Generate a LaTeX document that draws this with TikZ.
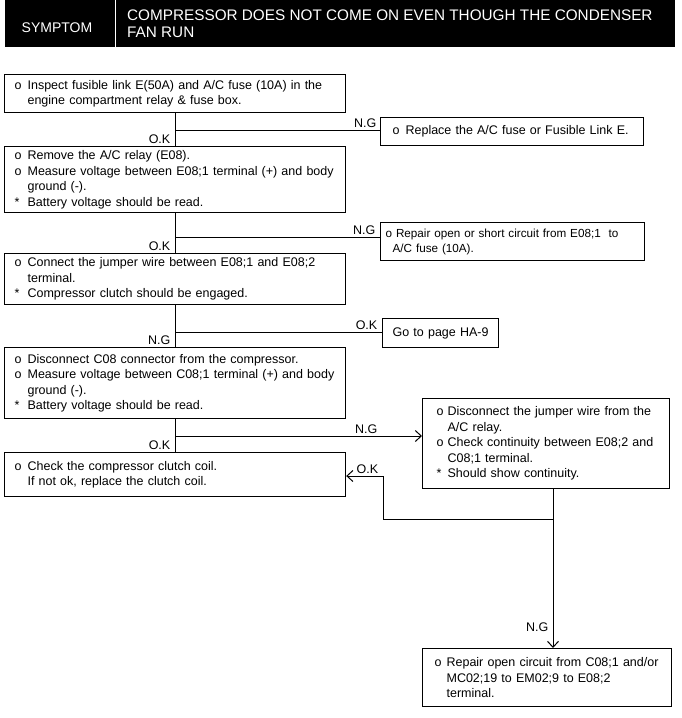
\documentclass[tikz,border=0pt]{standalone}
\usepackage{fontspec}
\setmainfont{Liberation Sans}
\usetikzlibrary{arrows.meta}
\newcommand\bx[2][13pt]{\makebox[#1][l]{#2}}
\newcommand\ind[1][13pt]{\hspace*{#1}}
\begin{document}
\begin{tikzpicture}[x=1pt,y=-1pt,
  box/.style={draw, line width=1.2pt, anchor=north west, align=left, inner xsep=10pt, inner ysep=0pt,
    font=\fontsize{12.5}{15.5}\selectfont},
  conn/.style={line width=1pt},
  tip/.style={-{Straight Barb[length=6pt,width=11pt]}},
  lbl/.style={inner sep=0.5pt, font=\fontsize{12.5}{15}\selectfont},
  hdr/.style={text=white, inner sep=0pt}]
\useasboundingbox (0,0) rectangle (681,718);
% header
\fill[black] (5,0) rectangle (675,47);
\draw[white, line width=1pt] (115,0) -- (115,47);
\node[hdr, font=\fontsize{14}{16}\selectfont] (sym) at (57,28) {SYMPTOM};
\node[hdr, anchor=north west, align=left, font=\fontsize{15.3}{17}\selectfont] (title) at (127,10)
  {COMPRESSOR DOES NOT COME ON EVEN THOUGH THE CONDENSER\\FAN RUN};
% boxes
\node[box, text width=321pt, minimum height=38pt] (B1) at (4,74)
  {\bx{o}Inspect fusible link E(50A) and A/C fuse (10A) in the\\\ind engine compartment relay \& fuse box.};
\node[box, text width=239pt, inner xsep=12pt, minimum height=28pt] (R1) at (380,117)
  {\bx{o}Replace the A/C fuse or Fusible Link E.};
\node[box, text width=321pt, minimum height=66pt] (B2) at (4,146)
  {\bx{o}Remove the A/C relay (E08).\\\bx{o}Measure voltage between E08;1 terminal (+) and body\\\ind ground (-).\\\bx{*}Battery voltage should be read.};
\node[box, text width=254pt, inner xsep=5pt, minimum height=38pt, font=\fontsize{11.7}{15}\selectfont] (R2) at (380,222)
  {o Repair open or short circuit from E08;1\ \ to\\\ind[7pt]A/C fuse (10A).};
\node[box, text width=321pt, minimum height=51pt] (B3) at (4,253)
  {\bx{o}Connect the jumper wire between E08;1 and E08;2\\\ind terminal.\\\bx{*}Compressor clutch should be engaged.};
\node[box, align=center, text width=116pt, inner xsep=0pt, minimum height=29pt] (G) at (382,318)
  {Go to page HA-9};
\node[box, text width=321pt, minimum height=71pt] (B4) at (4,347)
  {\bx{o}Disconnect C08 connector from the compressor.\\\bx{o}Measure voltage between C08;1 terminal (+) and body\\\ind ground (-).\\\bx{*}Battery voltage should be read.};
\node[box, text width=321pt, minimum height=44pt] (B5) at (4,452)
  {\bx{o}Check the compressor clutch coil.\\\ind If not ok, replace the clutch coil.};
\node[box, text width=219pt, inner xsep=14pt, minimum height=90pt] (B6) at (422,398)
  {\bx[11pt]{o}Disconnect the jumper wire from the\\\ind[11pt]A/C relay.\\\bx[11pt]{o}Check continuity between E08;2 and\\\ind[11pt]C08;1 terminal.\\\bx[11pt]{*}Should show continuity.};
\node[box, text width=225pt, inner xsep=12pt, minimum height=58pt] (B7) at (422,648)
  {\bx[12pt]{o}Repair open circuit from C08;1 and/or\\\ind[12pt]MC02;19 to EM02;9 to E08;2\\\ind[12pt]terminal.};
% trunk
\coordinate (tx) at (175,0);
\draw[conn] (B1.south -| tx) -- (B2.north -| tx);
\draw[conn] (B2.south -| tx) -- (B3.north -| tx);
\draw[conn] (B3.south -| tx) -- (B4.north -| tx);
\draw[conn] (B4.south -| tx) -- (B5.north -| tx);
\coordinate (j1) at (175,130);
\coordinate (j2) at (175,237);
\coordinate (j3) at (175,332);
\coordinate (j4) at (175,436);
\draw[conn] (j1) -- (j1 -| R1.west);
\draw[conn] (j2) -- (j2 -| R2.west);
\draw[conn] (j3) -- (j3 -| G.west);
\draw[conn, tip] (j4) -- (j4 -| B6.west);
% lower loop
\coordinate (k1) at (553,519);
\coordinate (k2) at (383,519);
\coordinate (k3) at (383,476);
\draw[conn, tip] (k1 |- B6.south) -- (k1 |- B7.north);
\draw[conn, tip] (k1) -- (k2) -- (k3) -- (k3 -| B5.east);
% labels
\node[lbl, anchor=south east] (ok1) at (171,144) {O.K};
\node[lbl, anchor=south east] (ng1) at (377,128) {N.G};
\node[lbl, anchor=south east] (ok2) at (171,251) {O.K};
\node[lbl, anchor=south east] (ng2) at (376,235) {N.G};
\node[lbl, anchor=south east] (ok3) at (378,330) {O.K};
\node[lbl, anchor=south east] (ng3) at (171,345) {N.G};
\node[lbl, anchor=south east] (ng4) at (378,434) {N.G};
\node[lbl, anchor=south east] (ok4) at (171,450) {O.K};
\node[lbl, anchor=south west] (ok5) at (356,474) {O.K};
\node[lbl, anchor=south east] (ng5) at (549,632) {N.G};
\end{tikzpicture}
\end{document}
